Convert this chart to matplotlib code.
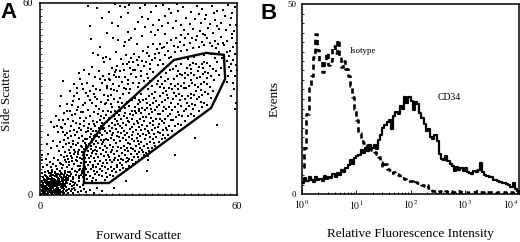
import numpy as np
import matplotlib
matplotlib.use("Agg")
import matplotlib.pyplot as plt
from matplotlib.ticker import MultipleLocator, NullFormatter

plt.rcParams['font.family'] = ['Liberation Serif', 'DejaVu Serif']
plt.rcParams['mathtext.fontset'] = 'stix'

# ---------------- Panel A data: forward scatter / side scatter events ----------------
events_txt = """
0.8,0.5 1.5,0.9 2.1,0.4 2.7,0.8 3.3,0.5 3.9,1.0 4.6,0.6 5.2,0.9 5.9,0.4 6.6,0.8 7.4,0.5 1.2,1.3 2.4,1.2 3.6,1.4 4.9,1.3 6.2,1.2
0.9,1.9 1.6,2.2 2.2,1.7 2.9,2.3 3.5,1.8 4.1,2.4 4.8,1.9 5.4,2.3 6.0,1.7 6.7,2.2 7.3,1.8 8.0,2.4 1.3,2.6 2.6,2.7 3.8,2.8 5.1,2.6 6.4,2.8 7.6,2.9
1.0,3.2 1.7,3.6 2.3,3.1 3.0,3.7 3.6,3.3 4.3,3.8 4.9,3.2 5.6,3.7 6.2,3.3 6.9,3.8 7.5,3.4 8.3,3.9 1.4,4.1 2.7,4.2 4.0,4.3 5.3,4.1 6.6,4.4 7.9,4.3 2.0,4.5 3.3,4.6 4.6,4.7 5.9,4.6 7.2,4.8
1.2,5.0 2.4,5.2 3.1,4.9 3.8,5.4 4.4,5.0 5.1,5.5 5.7,5.1 6.4,5.6 7.0,5.2 7.8,5.7 8.5,5.3 1.8,5.9 2.9,6.0 4.1,6.1 5.3,5.9 6.1,6.2 7.3,6.1 8.2,6.4 3.5,6.5 4.8,6.6 6.8,6.7
2.0,1.1 3.0,1.5 4.3,1.6 5.5,1.4 1.8,2.9 3.2,2.5 4.5,2.9 5.8,3.0 2.5,3.8 3.9,3.5 5.0,3.6 2.2,4.9 3.6,4.0 4.8,4.4 6.0,4.0 1.6,1.6 2.8,1.9 4.0,2.1 5.0,2.0 6.3,2.5 3.4,3.0 4.6,3.4 2.0,3.4 5.5,4.8 7.0,3.0 7.7,4.6 2.5,0.6 4.2,0.8 6.9,1.4 1.1,4.7
0.4,0.3 1.1,0.7 1.9,0.3 2.4,1.6 3.1,0.9 3.7,2.1 4.4,1.2 5.0,0.3 5.6,2.0 6.1,0.7 6.9,2.6 7.8,1.1 0.6,1.4 1.4,2.8 2.0,2.2 2.7,3.3 3.3,4.1 3.9,3.0 4.5,4.1 5.2,3.0 5.8,4.3 6.5,3.5 7.1,4.4 7.8,3.6 8.4,4.7 0.7,2.5 1.0,3.8 1.5,4.8 2.1,5.6 2.8,5.1 3.4,5.8 4.0,5.0 4.7,5.8 5.4,5.2 6.0,5.8 6.7,5.0 7.4,5.6 8.0,5.1 8.7,6.0 9.3,4.5 0.5,4.4 0.9,5.7 1.6,6.4 2.6,6.8 3.7,7.2 4.6,6.9 5.6,6.6 6.5,7.0 7.5,6.8 8.6,7.2 9.4,6.6 9.9,5.0 1.3,0.4 3.6,0.3 5.5,0.5 7.0,0.3 8.3,1.5 9.6,2.0 10.3,3.0 0.4,3.0
8.6,0.6 9.3,1.2 10.1,0.5 10.8,1.6 11.6,0.9 12.5,1.4 8.9,2.0 9.7,2.7 10.5,2.1 11.3,3.0 12.2,2.4 13.0,3.2 9.0,3.4 9.9,4.0 10.7,3.6 11.8,4.3 14.1,0.8 13.5,2.0 15.2,1.5 16.4,0.7 17.3,2.2 18.8,1.1
0.7,6.8 1.5,7.2 2.3,7.6 3.0,7.0 3.8,7.9 4.5,7.3 5.2,8.1 6.0,7.4 6.7,8.3 7.5,7.6 8.2,8.6 9.0,7.1 9.8,8.0 10.6,7.4 1.0,8.9 2.0,9.4 3.2,8.7 4.1,9.6 5.0,9.0 6.0,10.0 7.0,9.3 7.9,10.2 8.8,9.5 9.6,10.5 10.5,9.8 11.4,10.6 12.3,9.2 0.6,10.8 1.8,11.2 3.0,10.4 4.4,11.5 5.6,11.0 7.2,11.8 8.4,11.2 9.2,6.0 10.2,5.5 11.1,6.4 12.0,5.2 12.8,6.8 11.9,7.9 13.2,8.1 0.5,12.4 2.5,12.8
8.3,12.1 9.1,13.0 9.8,11.6 10.5,12.7 8.7,14.2 9.5,15.1 10.3,14.0 11.0,15.6 8.9,16.3 10.0,17.0 10.8,13.3 11.2,11.9 9.3,18.4 10.6,18.9 7.5,13.4 7.9,15.8 6.5,12.6 6.9,14.9 7.2,17.2 8.1,19.5 5.8,13.8 5.1,15.2 6.2,16.5
11.3,7.2 12.1,8.0 12.9,7.4 13.6,8.6 11.7,9.1 12.5,10.0 13.3,9.4 14.0,10.3 11.5,12.8 12.3,11.7 13.1,12.5 13.8,11.6 11.9,14.1 12.7,13.5 13.5,14.4 11.6,16.2 12.4,15.4 13.2,16.8 14.0,15.7 12.0,17.9 12.9,18.5 13.7,17.6 11.4,19.6 12.6,20.4 13.9,19.8 12.2,22.1 13.4,21.7 11.8,5.9 13.0,5.6 14.1,6.4
14.4,5.1 15.2,6.0 16.0,5.4 16.8,6.5 14.7,7.3 15.5,8.1 16.3,7.5 17.0,8.7 14.5,9.4 15.3,10.2 16.1,9.5 16.9,10.6 14.8,11.5 15.6,12.3 16.4,11.7 17.1,12.9 14.6,13.6 15.4,14.5 16.2,13.9 17.0,15.0 14.9,15.8 15.7,16.6 16.5,16.0 14.3,17.4 15.1,18.2 15.9,17.6 16.7,18.8 14.6,19.9 15.4,20.7 16.2,20.1 14.9,22.3 16.0,23.0 15.3,24.6 16.8,21.5
17.4,7.3 18.2,8.2 19.0,7.6 19.8,8.9 17.6,9.8 18.4,10.5 19.2,9.9 20.0,11.0 17.8,11.9 18.6,12.7 19.4,12.1 20.1,13.3 17.5,13.9 18.3,14.8 19.1,14.2 19.9,15.4 17.7,16.3 18.5,17.1 19.3,16.5 20.0,17.6 17.4,18.4 18.2,19.3 19.0,18.7 19.8,19.9 17.9,20.8 18.7,21.6 19.5,21.0 17.3,22.7 18.4,23.5 19.6,24.2 17.8,25.3 19.1,26.4 18.9,5.9 17.2,4.6
20.4,5.6 21.3,6.4 22.1,5.9 23.0,7.1 20.6,8.0 21.5,8.8 22.4,8.2 23.3,9.4 20.3,10.1 21.2,11.0 22.0,10.4 22.9,11.6 23.8,10.8 20.7,12.5 21.6,13.3 22.5,12.7 23.4,13.9 20.5,14.8 21.4,15.6 22.3,15.0 23.2,16.2 20.8,17.1 21.7,17.9 22.6,17.3 23.5,18.5 20.4,19.3 21.3,20.1 22.2,19.5 23.1,20.7 20.9,21.6 21.8,22.4 22.7,21.8 23.6,23.0 21.1,24.0 22.4,24.8 23.3,25.7 20.6,26.3 22.0,27.5
24.3,7.8 25.2,8.5 26.1,8.0 27.0,9.2 27.8,8.6 24.5,10.0 25.4,10.8 26.3,10.2 27.2,11.3 24.2,12.3 25.1,13.1 26.0,12.5 26.9,13.6 27.8,12.9 24.6,14.6 25.5,15.4 26.4,14.8 27.3,15.9 24.3,16.9 25.2,17.7 26.1,17.1 27.0,18.2 27.9,17.4 24.7,19.3 25.6,20.1 26.5,19.5 27.4,20.6 24.4,21.6 25.3,22.4 26.2,21.8 27.1,22.9 24.8,23.9 25.7,24.7 26.6,24.1 27.5,25.3 24.5,26.4 25.9,27.1 27.2,27.8 26.4,29.0 25.0,28.6
28.3,9.6 29.2,10.3 30.1,11.0 31.0,11.6 28.5,11.9 29.4,12.7 30.3,13.4 31.2,14.1 28.2,14.4 29.1,15.2 30.0,15.9 30.9,16.6 31.8,15.3 28.6,17.0 29.5,17.8 30.4,18.5 31.3,19.2 28.3,19.6 29.2,20.4 30.1,21.1 31.0,21.8 31.9,20.5 28.7,22.3 29.6,23.1 30.5,23.8 31.4,24.5 28.4,24.9 29.3,25.7 30.2,26.4 31.1,27.1 28.8,27.6 29.7,28.4 30.6,29.1 31.5,29.8 29.0,30.4 30.8,31.5 28.1,29.8 31.7,12.6
32.3,13.0 33.2,13.9 34.1,14.6 35.0,15.2 32.5,15.8 33.4,16.7 34.3,17.4 35.2,18.1 32.2,18.6 33.1,19.5 34.0,20.2 34.9,20.9 35.8,19.6 32.6,21.5 33.5,22.4 34.4,23.1 35.3,23.8 32.3,24.3 33.2,25.2 34.1,25.9 35.0,26.6 35.9,25.2 32.7,27.2 33.6,28.1 34.5,28.8 35.4,29.5 32.4,30.0 33.3,30.9 34.2,31.6 35.1,32.3 32.8,33.0 34.0,34.1 35.6,34.8 33.5,35.6
36.3,16.5 37.2,17.4 38.1,17.9 39.0,18.8 36.5,19.4 37.4,20.3 38.3,21.0 39.2,21.7 36.2,22.3 37.1,23.2 38.0,23.9 38.9,24.6 39.8,23.4 36.6,25.2 37.5,26.1 38.4,26.8 39.3,27.5 36.3,28.1 37.2,29.0 38.1,29.7 39.0,30.4 36.7,31.0 37.6,31.9 38.5,32.6 39.4,33.3 36.4,33.9 37.3,34.8 38.2,35.5 39.1,36.2 36.9,37.0 38.3,38.1 39.6,39.2
40.3,20.1 41.2,21.6 42.1,22.3 43.0,21.8 40.5,23.5 41.4,24.4 42.3,25.1 43.2,24.6 40.2,26.7 41.1,27.6 42.0,28.3 42.9,27.8 43.8,26.3 40.6,29.9 41.5,30.8 42.4,31.5 43.3,31.0 40.3,33.1 41.2,34.0 42.1,34.7 43.0,34.2 43.9,33.5 40.7,36.3 41.6,37.2 42.5,37.9 43.4,37.4 40.4,39.5 41.3,40.4 42.8,40.9
44.3,23.0 45.2,24.6 46.1,25.3 47.0,24.8 44.5,26.9 45.4,27.8 46.3,28.5 47.2,28.0 44.2,30.1 45.1,31.0 46.0,31.7 46.9,31.2 47.8,30.0 44.6,33.3 45.5,34.2 46.4,34.9 47.3,34.4 44.3,36.5 45.2,37.4 46.1,38.1 47.0,37.6 47.9,36.7 44.7,39.7 45.6,40.6 46.5,41.3 47.4,40.8 45.0,42.5 46.8,43.2
48.3,26.3 49.2,27.4 50.1,28.9 51.0,28.1 48.5,30.5 49.4,31.4 50.3,32.1 51.2,31.6 52.1,30.4 48.2,33.7 49.1,34.6 50.0,35.3 50.9,34.8 51.8,33.9 52.7,32.5 48.6,36.9 49.5,37.8 50.4,38.5 51.3,38.0 52.2,37.1 53.1,36.0 48.3,40.1 49.2,41.0 50.1,41.7 51.0,41.2 51.9,40.3 52.8,39.4 53.7,38.6 54.6,37.5 55.2,39.8 54.0,41.6 53.2,42.7 55.4,42.9 49.8,43.6 52.0,44.0 54.5,44.6
6.3,9.7 7.6,10.8 8.9,10.3 9.4,12.2 10.9,11.0 11.7,13.4 10.2,15.9 12.8,14.9 13.6,16.1 12.9,11.1 14.2,12.6 15.9,13.0 14.0,14.9 16.8,14.1 15.6,15.3 17.2,16.9 18.9,15.9 16.3,18.5 18.0,18.1 19.6,17.2 17.0,20.0 19.2,20.5 20.3,22.8 21.9,20.9 18.6,24.6 20.1,25.1 21.6,25.9 23.9,22.2 22.8,23.6 24.1,25.0 25.0,21.0 26.8,23.0 23.7,19.6 22.0,18.6 24.0,18.0 25.9,18.6 26.8,16.3 25.8,14.1 23.9,15.1 22.0,14.1 21.0,12.0 22.6,11.0 24.8,11.4 26.4,11.5 27.6,14.6 28.9,13.6 29.9,16.9 28.0,18.8 29.8,19.0 28.0,21.1 30.7,20.3 29.9,22.4 27.9,23.9 28.9,26.1 30.9,25.6 32.0,26.5 31.6,23.0 33.8,24.1 32.8,19.9 33.6,18.1 31.9,17.5 30.6,14.7 32.9,14.8 34.7,16.2 34.6,19.2 35.8,21.4 34.5,22.0 36.6,23.8 35.7,27.6 33.9,26.9 32.5,28.6 34.7,30.3 30.0,29.6 27.9,26.4 26.0,25.6 24.2,27.6 22.7,26.2 21.5,28.4 20.0,28.7 19.0,22.5 16.4,22.2 15.5,19.2 14.5,21.0 13.3,23.0 12.0,21.0 11.0,22.4 10.3,20.4 9.2,19.9 8.5,17.8 7.7,18.8 6.9,19.7 12.4,25.8 14.7,26.6 16.4,25.9 17.9,27.0 14.0,24.0 9.7,24.9 11.3,26.6 13.0,28.2 15.8,28.6 16.6,30.6 20.7,30.9 22.4,32.8 18.8,9.1 16.0,8.8 14.0,8.0 12.6,6.4 15.7,4.5 17.9,6.1 20.0,6.8 22.0,7.4 23.6,8.6 19.9,4.6 24.9,9.4 26.7,10.6 28.0,10.8 29.8,11.8 31.5,13.3 33.0,12.2 37.5,18.6 38.8,20.2 37.9,22.5 39.6,25.2 37.8,27.4 39.8,28.9 38.7,31.2 40.8,31.8 39.8,34.6 37.8,33.4 36.0,35.6 41.9,33.0 42.7,29.6 41.9,26.0 44.8,28.9 45.9,30.2 44.0,35.0 45.9,35.9 42.0,38.9 44.3,38.2 46.0,39.4 48.0,38.6 49.6,39.7 50.8,36.6 49.0,32.9 47.6,32.6 46.5,27.0 48.9,29.0
3.2,14.6 4.1,17.0 2.5,18.8 5.5,19.6 4.3,21.4 6.8,20.8 7.6,22.3 5.9,23.5 8.5,23.9 9.4,21.6 10.2,23.1 7.2,25.6 9.0,26.4 10.8,25.4 11.5,27.6 8.2,28.5 12.3,24.2 13.1,26.0 10.0,29.3 12.0,30.1 13.8,28.7 14.5,30.9 11.2,31.8 9.1,32.6 13.0,33.2 15.2,32.4 16.1,34.1 14.2,35.0 12.1,36.2 7.0,35.6 16.8,36.8 15.0,37.9 17.5,30.0 18.3,32.8 17.0,27.8 18.6,29.1 19.5,31.3 19.0,34.9 17.9,38.6 15.8,40.0 13.3,39.1 19.9,28.4 20.3,33.4 10.4,34.7 6.0,27.9 4.8,24.8 3.5,22.7 2.0,16.0 6.3,31.0 11.9,38.2
20.8,29.6 21.7,31.2 22.6,30.0 23.5,32.4 20.5,34.1 21.4,35.8 22.3,34.6 23.2,36.9 24.1,34.0 20.9,37.9 21.8,39.6 22.7,38.3 23.6,40.4 24.5,38.8 25.4,31.5 26.3,33.0 27.2,31.8 25.1,35.3 26.0,37.0 26.9,35.8 27.8,37.9 25.6,39.2 26.5,40.9 27.4,39.7 28.3,41.6 24.8,42.6 26.2,43.9 27.6,42.8 28.4,35.1 29.3,36.8 30.2,34.9 29.0,39.0 29.9,40.7 30.8,38.6 31.7,40.3 28.7,44.1 30.1,43.2 31.3,45.0 32.5,37.9 33.4,39.4 34.3,38.5 32.2,41.7 33.1,43.4 34.0,42.2 34.9,44.0 32.8,46.2 34.5,47.1 35.8,40.5 36.7,42.3 37.6,41.0 35.5,45.6 36.4,47.2 37.3,45.9 38.2,43.8 39.1,44.9 40.0,43.2 38.6,47.6 39.9,48.5 41.2,44.6 42.1,46.3 43.0,45.1 43.9,47.0 41.5,49.2 42.8,50.1 44.7,45.4 45.6,47.6 46.5,45.9 47.4,48.3 45.2,50.3 48.3,46.2 49.2,47.9 50.1,46.8 51.0,49.0 48.8,51.2 52.3,46.5 53.2,48.1 54.1,47.2 52.7,50.6 55.0,49.3 54.4,51.8 21.2,42.5 23.0,44.8 19.6,41.5 25.7,46.5 27.0,48.3 29.5,47.2 31.0,49.6 33.8,50.8 36.0,51.5 38.0,50.2 40.5,52.3 30.3,27.0
19.3,37.2 21.0,36.4 22.5,37.4 24.0,36.8 23.0,39.0 25.3,41.0 27.0,41.5 28.2,39.1 29.6,42.3 31.2,42.0 32.7,44.4 33.6,41.0 35.0,42.8 36.2,44.4 37.8,46.3 39.2,42.8 40.7,46.6 42.5,47.8 44.2,49.0 46.2,49.2 47.8,49.8 50.2,49.9 51.9,47.6 53.6,46.0 55.8,47.4 56.9,44.8 24.5,30.2 26.8,34.6 29.8,33.6 31.8,35.5 33.0,36.5 30.8,37.2 27.5,33.0 25.6,33.5 23.9,29.1 21.5,33.0 19.8,35.8 18.2,36.2 17.0,33.0 16.3,31.5 15.2,29.6 13.9,32.0 12.9,34.8 11.4,33.3 10.3,31.0 9.6,28.0 8.1,26.2 7.0,23.4 6.3,21.2 5.2,21.6
14.6,59.0 17.5,58.3 22.9,59.7 24.3,59.2 26.0,58.8 27.0,59.4 26.8,56.8 24.6,55.5 22.0,53.6 23.8,52.8 15.1,52.9 26.8,51.0 28.9,52.0 15.6,48.7 22.3,49.0 23.8,48.4 25.8,47.9 27.8,49.0 16.2,44.3 17.7,43.8 19.2,42.7 20.2,43.2 18.4,46.1 20.5,50.7 19.0,55.4 21.1,57.2
30.4,58.4 32.1,59.5 33.8,57.2 35.2,59.0 37.5,59.4 39.2,58.1 40.0,56.8 41.8,59.6 43.5,58.6 46.0,57.3 47.7,59.2 49.3,58.0 50.6,56.3 52.4,59.1 54.0,57.5 55.8,57.8 57.3,59.3 58.2,55.2 57.8,53.1 31.9,52.6 34.5,53.1 36.3,54.8 39.0,53.6 38.1,56.0 41.3,54.5 42.9,53.0 44.6,55.3 45.8,53.4 47.3,54.9 48.9,53.7 50.2,55.1 51.7,53.5 53.3,54.6 55.1,53.9 56.4,55.8 31.0,55.5 33.0,55.0 29.8,54.2 44.0,51.6 46.7,51.9 49.5,50.4 51.2,52.1 53.9,52.9 56.6,51.6 58.5,50.3 57.0,48.0 58.8,46.2 56.1,46.8 35.0,49.9 37.2,52.8 42.0,57.5 48.3,56.6 52.9,56.9
58.7,35.0 59.3,37.2 58.1,38.9 59.6,40.5 58.9,42.3 59.4,44.0 57.9,45.1 59.7,47.4 58.4,49.0 59.1,51.1 59.8,53.0 58.6,56.9 59.5,58.6 57.6,43.3 58.2,41.0 59.9,39.0 57.2,37.3 59.0,33.1 58.3,30.8 59.6,28.9 57.5,40.0 56.9,41.9 57.0,35.4
54.0,22.0 47.3,17.8 32.5,7.6 32.9,10.9 59.5,27.0 41.0,12.5 26.3,4.3 22.5,2.1
"""
pairs = [p.split(',') for p in events_txt.split()]
forward_scatter = np.array([float(a) for a, b in pairs])
side_scatter = np.array([float(b) for a, b in pairs])

# gate polygon vertices (forward, side)
gate_fsc = [13.4, 13.4, 19.5, 40.8, 50.6, 56.0, 56.4, 52.1, 21.0, 13.4]
gate_ssc = [3.75, 13.4, 22.2, 42.2, 44.4, 43.8, 36.3, 27.2, 3.75, 3.75]

# ---------------- Panel B data: fluorescence histograms (100 log channels, 10^0..10^4) ----------------
isotype_counts = [7, 12, 21, 28, 31, 36, 42, 38, 35, 32,
                  34.5, 37, 34, 35, 39, 37, 40.5, 36, 33.5, 35,
                  33, 31, 28.5, 25.5, 22.5, 19.5, 16, 14, 13.5, 12.5,
                  13, 12, 11.5, 11, 10.5, 9.8, 8.5, 7.2, 7.8, 6.6,
                  6.3, 5.6, 5.9, 5.2, 4.9, 4.6, 4.2, 3.9, 3.6, 3.4,
                  3.3, 3.0, 3.1, 2.8, 2.9, 2.5, 2.2, 2.4, 1.6, 1.2,
                  0.9, 0.8, 0.5, 0.9, 0.6, 0.4, 0.7, 0.5, 0.8, 0.6,
                  0.4, 0.5, 0.7, 0.4, 0.6, 0.5, 0.3, 0.6, 0.5, 0.4,
                  0.7, 0.5, 0.4, 0.6, 0.3, 0.5, 0.6, 0.4, 0.5, 0.3,
                  0.6, 0.4, 0.5, 0.4, 0.3, 0.5, 0.4, 0.3, 0.4, 0.3]
cd34_counts = [3.0, 4.2, 3.5, 4.6, 3.8, 3.2, 4.4, 3.6, 4.0, 3.4,
               4.8, 3.9, 4.5, 4.2, 5.3, 4.6, 5.6, 5.0, 6.2, 5.7,
               6.8, 7.6, 8.9, 7.8, 9.4, 9.9, 10.2, 11.5, 10.8, 12.0,
               11.4, 12.9, 12.2, 13.0, 11.8, 14.2, 15.6, 17.3, 18.2, 19.0,
               19.6, 17.2, 20.6, 21.5, 21.0, 23.2, 22.4, 25.4, 24.0, 25.6,
               24.5, 22.1, 24.2, 23.6, 21.4, 20.1, 18.3, 16.6, 17.2, 15.1,
               14.6, 15.6, 13.9, 10.4, 9.3, 9.0, 9.9, 8.6, 7.8, 7.5,
               6.0, 7.1, 6.4, 6.9, 6.1, 6.8, 5.8, 5.6, 5.3, 6.0,
               5.7, 6.3, 8.1, 5.8, 5.0, 4.8, 4.4, 4.6, 3.8, 3.6,
               3.4, 3.2, 3.0, 2.9, 2.6, 2.3, 1.9, 3.0, 1.4, 0.8]
decade_ticks = [1, 10, 100, 1000, 10000]
decade_labels = ['$10^{\\,0}$', '$10^{\\,1}$', '$10^{\\,2}$', '$10^{\\,3}$', '$10^{\\,4}$']

n_ch = len(cd34_counts)
channel_edges = np.logspace(0, 4, n_ch + 1)
channel_centers = np.sqrt(channel_edges[:-1] * channel_edges[1:])

# ---------------- Figure ----------------
fig = plt.figure(figsize=(5.2, 2.42), dpi=100)

# Panel A
axA = fig.add_axes([40 / 520, 1 - 195 / 242, 197 / 520, 192 / 242])
axA.scatter(forward_scatter, side_scatter, s=3.0, c='black', marker='s', linewidths=0)
axA.plot(gate_fsc, gate_ssc, color='black', lw=1.7, solid_joinstyle='miter')
axA.set_xlim(0, 60)
axA.set_ylim(0, 60)
axA.set_xticks([0, 60])
axA.set_yticks([0, 60])
axA.set_xticklabels(['0', '60'])
axA.set_yticklabels(['0', '60'])
axA.xaxis.set_minor_locator(MultipleLocator(2))
axA.yaxis.set_minor_locator(MultipleLocator(2))
axA.tick_params(which='major', length=0, labelsize=7.5, pad=5)
axA.tick_params(which='minor', direction='in', length=1.5, width=0.6)
for sp in axA.spines.values():
    sp.set_linewidth(1.1)
axA.set_xlabel('Forward Scatter', fontsize=9.5, labelpad=14)
axA.set_ylabel('Side Scatter', fontsize=9.5)
axA.yaxis.set_label_coords(-0.135, 0.5)

# Panel B
axB = fig.add_axes([302 / 520, 1 - 194 / 242, 217 / 520, 190 / 242])
axB.plot(channel_centers, isotype_counts, color='black', lw=1.9,
         linestyle=(0, (2.0, 1.4)), drawstyle='steps-mid')
axB.plot(channel_centers, cd34_counts, color='black', lw=1.6, drawstyle='steps-mid')
axB.set_xscale('log')
axB.set_xlim(1, 10000)
axB.set_ylim(0, 50)
axB.set_xticks(decade_ticks)
axB.set_xticklabels(decade_labels)
axB.set_yticks([0, 50])
axB.set_yticklabels(['0', '50'])
axB.yaxis.set_minor_locator(MultipleLocator(2.5))
axB.xaxis.set_minor_formatter(NullFormatter())
axB.tick_params(which='major', direction='in', length=3, width=0.7, labelsize=7, pad=3)
axB.tick_params(axis='y', which='major', length=0, pad=4, labelsize=6.5)
axB.tick_params(which='minor', direction='in', length=1.5, width=0.6)
labs = axB.get_xticklabels()
labs[-1].set_horizontalalignment('right')
for sp in axB.spines.values():
    sp.set_linewidth(1.1)
axB.set_xlabel('Relative Fluorescence Intensity', fontsize=9.5, labelpad=12)
axB.set_ylabel('Events', fontsize=9.5)
axB.yaxis.set_label_coords(-0.097, 0.5)
axB.text(7.7, 37.6, 'Isotype', fontsize=6.5, va='center', ha='left')
axB.text(316, 25.3, 'CD34', fontsize=7, va='center', ha='left')

fig.text(0 / 520, 1 - 2 / 242, 'A', fontsize=16, fontweight='bold',
         family=['Liberation Sans', 'DejaVu Sans'], va='top', ha='left')
fig.text(261 / 520, 1 - 3 / 242, 'B', fontsize=16, fontweight='bold',
         family=['Liberation Sans', 'DejaVu Sans'], va='top', ha='left')

fig.savefig('out.png', dpi=100)
